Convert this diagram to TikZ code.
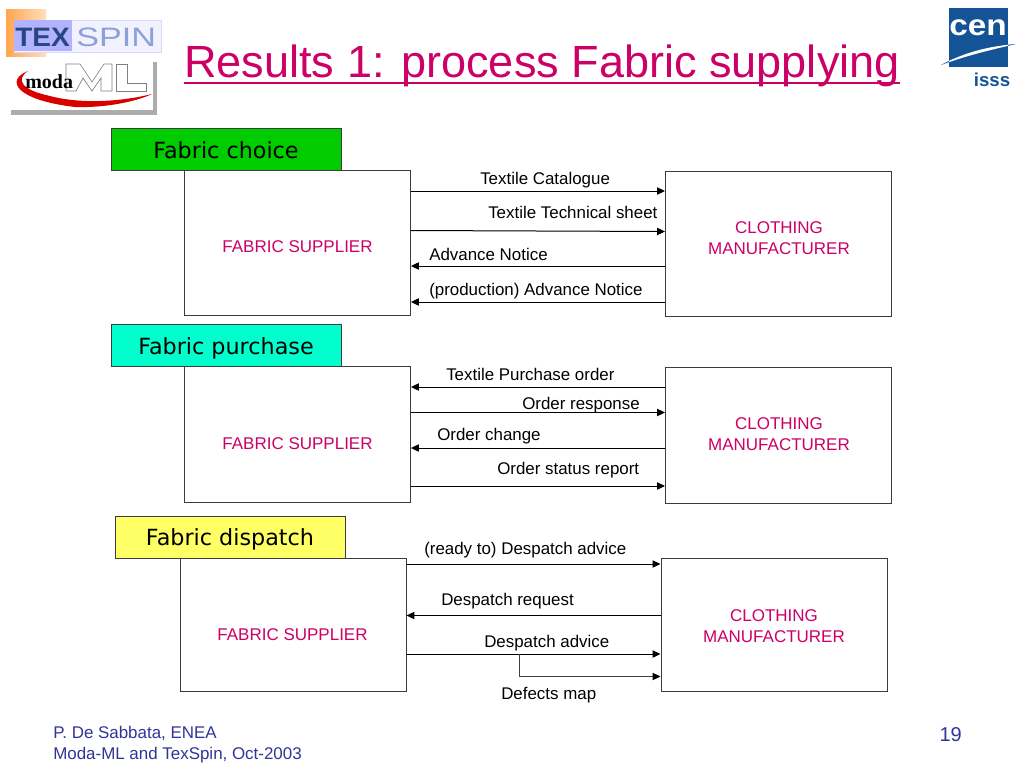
\documentclass[tikz,border=0pt]{standalone}
\usepackage{fontspec}
\setmainfont{Liberation Sans}
\newfontfamily\vfont{DejaVu Sans}
\newfontfamily\sfont{Liberation Serif}
\usetikzlibrary{arrows.meta}
\definecolor{mag}{RGB}{204,0,102}
\definecolor{navy}{RGB}{51,51,153}
\definecolor{cenblue}{RGB}{20,84,150}
\definecolor{edgegray}{RGB}{60,60,60}
\definecolor{texblue}{RGB}{40,70,130}
\definecolor{spinblue}{RGB}{140,160,220}
\definecolor{cyanfill}{RGB}{0,255,204}
\definecolor{greenfill}{RGB}{0,204,0}
\definecolor{yellowfill}{RGB}{255,255,102}
\tikzset{
 party/.style={draw=edgegray,line width=0.7pt,fill=white,inner sep=0pt,anchor=north west,minimum width=169.5pt},
 partytext/.style={inner sep=0pt,anchor=base,align=center,text=mag,font=\fontsize{12.75}{15.5}\selectfont},
 phase/.style={draw=edgegray,line width=0.7pt,inner sep=0pt,anchor=north west,minimum width=172.5pt,minimum height=31.5pt,text height=13pt,text depth=0pt,font=\vfont\fontsize{16.7}{20}\selectfont},
 flow/.style={draw=black,line width=0.75pt,-{Triangle[length=6pt,width=5.5pt,color=black]}},
 msg/.style={font=\fontsize{12.68}{15}\selectfont,inner sep=0pt,anchor=base west,text=black},
 foot/.style={font=\fontsize{12.7}{15}\selectfont,text=navy,inner sep=0pt,anchor=base west},
}
\begin{document}
\begin{tikzpicture}[x=0.75pt,y=-0.75pt]
\useasboundingbox (0,0) rectangle (1024,768);
\fill[white] (0,0) rectangle (1024,768);
% TexSpin logo
\fill[left color=orange!70!white,right color=orange!25!white] (6,9) rectangle (46,56);
\fill[blue!5!white,draw=blue!15!white,line width=0.4pt] (14,20) rectangle (161,52);
\fill[blue!30!white] (14,20) rectangle (72,51);
\node[inner sep=0pt,anchor=base west,font=\fontsize{20}{20}\selectfont\bfseries,text=texblue] (texlogo) at (15,46) {\scalebox{1.05}[1]{TEX}};
\node[inner sep=0pt,anchor=base west,font=\fontsize{20}{20}\selectfont,text=spinblue] (spinlogo) at (76,46) {\scalebox{1.28}[1]{SPIN}};
% moda ML logo
\fill[gray!65] (11,66) rectangle (157,115);
\fill[white] (8,60) rectangle (153,110);
\fill[gray!65] (153,62) rectangle (157,115);
\fill[red!85!black] (28,71) .. controls (5,80) and (15,100) .. (75,107) .. controls (110,108) and (140,100) .. (152,94) .. controls (120,102) and (80,104) .. (50,96) .. controls (22,90) and (15,80) .. (28,71) -- cycle;
\draw[gray,fill=white,line width=0.5pt] (66,64) -- (80,64) -- (92,82) -- (104,64) -- (112,64) -- (112,91) -- (101,91) -- (101,78) -- (92,91) -- (83,78) -- (76,91) -- (66,91) -- cycle;
\draw[gray,fill=white,line width=0.5pt] (116,64) -- (127,64) -- (127,83) -- (146,83) -- (146,91) -- (116,91) -- cycle;
\node[inner sep=0pt,anchor=base west,font=\sfont\fontsize{15}{15}\selectfont\bfseries,text=black] (modalogo) at (25,88) {moda};
% CEN logo
\fill[cenblue] (949,8) rectangle (1008,67);
\node[inner sep=0pt,anchor=base,font=\fontsize{25}{25}\selectfont\bfseries,text=white] (cenlogo) at (978,35) {\scalebox{1}[0.88]{cen}};
\fill[cenblue] (941,65) .. controls (965,52) and (990,46) .. (1016,44) .. controls (990,50) and (965,56) .. (941,65) -- cycle;
\begin{scope}
\clip (949,8) rectangle (1008,67);
\fill[white] (941,65) .. controls (965,52) and (990,46) .. (1016,44) .. controls (990,50) and (965,56) .. (941,65) -- cycle;
\end{scope}
\node[inner sep=0pt,anchor=base,font=\fontsize{14}{14}\selectfont\bfseries,text=cenblue] (isss) at (992,86) {isss};
% Title
\node[inner sep=0pt,anchor=base west,font=\fontsize{33.8}{40}\selectfont,text=mag] (title) at (184,77.5) {Results 1: process Fabric supplying};
\draw[mag,line width=1.9pt] (title.west |- 0,83) -- (title.east |- 0,83);
% Row 1
\node[party,minimum height=108.75pt] (s1) at (184,170) {};
\node[party,minimum height=108.75pt] (m1) at (665,170.5) {};
\node[partytext] (sl1) at (297.5,252.5) {FABRIC SUPPLIER};
\node[partytext] (ml1) at (779,254) {CLOTHING\\MANUFACTURER};
\node[phase,fill=greenfill] (p1) at (110.5,128) {Fabric choice};
\coordinate (a1) at (0,191); \coordinate (a2) at (0,231.5); \coordinate (a3) at (0,266); \coordinate (a4) at (0,302);
\draw[flow] (s1.east |- a1) -- (m1.west |- a1);
\draw[flow] (s1.east |- 0,230.5) -- (m1.west |- a2);
\draw[flow] (m1.west |- a3) -- (s1.east |- a3);
\draw[flow] (m1.west |- a4) -- (s1.east |- a4);
\node[msg] (t1) at (480,184) {Textile Catalogue};
\node[msg] (t2) at (488,218) {Textile Technical sheet};
\node[msg] (t3) at (429,260) {Advance Notice};
\node[msg] (t4) at (429,295) {(production) Advance Notice};
% Row 2
\node[party,minimum height=102pt] (s2) at (184,366) {};
\node[party,minimum height=102pt] (m2) at (665,366.5) {};
\node[partytext] (sl2) at (297.5,449) {FABRIC SUPPLIER};
\node[partytext] (ml2) at (779,450) {CLOTHING\\MANUFACTURER};
\node[phase,fill=cyanfill] (p2) at (110.5,324) {Fabric purchase};
\coordinate (b1) at (0,387); \coordinate (b2) at (0,412.5); \coordinate (b3) at (0,448); \coordinate (b4) at (0,486);
\draw[flow] (m2.west |- b1) -- (s2.east |- b1);
\draw[flow] (s2.east |- b2) -- (m2.west |- b2);
\draw[flow] (m2.west |- b3) -- (s2.east |- b3);
\draw[flow] (s2.east |- b4) -- (m2.west |- b4);
\node[msg] (t5) at (446,380) {Textile Purchase order};
\node[msg] (t6) at (522,409) {Order response};
\node[msg] (t7) at (437,440) {Order change};
\node[msg] (t8) at (497,474) {Order status report};
% Row 3
\node[party,minimum height=99.75pt] (s3) at (179.5,557.5) {};
\node[party,minimum height=99.75pt] (m3) at (660.5,557.5) {};
\node[partytext] (sl3) at (292.5,640) {FABRIC SUPPLIER};
\node[partytext] (ml3) at (774,642) {CLOTHING\\MANUFACTURER};
\node[phase,fill=yellowfill] (p3) at (114.5,515.5) {Fabric dispatch};
\coordinate (c1) at (0,564); \coordinate (c2) at (0,615.5); \coordinate (c3) at (0,654); \coordinate (c4) at (0,676.5);
\coordinate (branch) at (519,654);
\draw[flow] (s3.east |- c1) -- (m3.west |- c1);
\draw[flow] (m3.west |- c2) -- (s3.east |- c2);
\draw[flow] (s3.east |- c3) -- (m3.west |- c3);
\draw[flow,draw=black!75] (branch) |- (m3.west |- c4);
\node[msg] (t9) at (424,554) {(ready to) Despatch advice};
\node[msg] (t10) at (441,605.5) {Despatch request};
\node[msg] (t11) at (484,647.5) {Despatch advice};
\node[msg] (t12) at (501,699) {Defects map};
% Footer
\node[foot] (f1) at (53,738) {P. De Sabbata, ENEA};
\node[foot] (f2) at (53,759) {Moda-ML and TexSpin, Oct-2003};
\node[inner sep=0pt,anchor=base east,font=\fontsize{15}{15}\selectfont,text=navy] (pg) at (962,741) {19};
\end{tikzpicture}
\end{document}
